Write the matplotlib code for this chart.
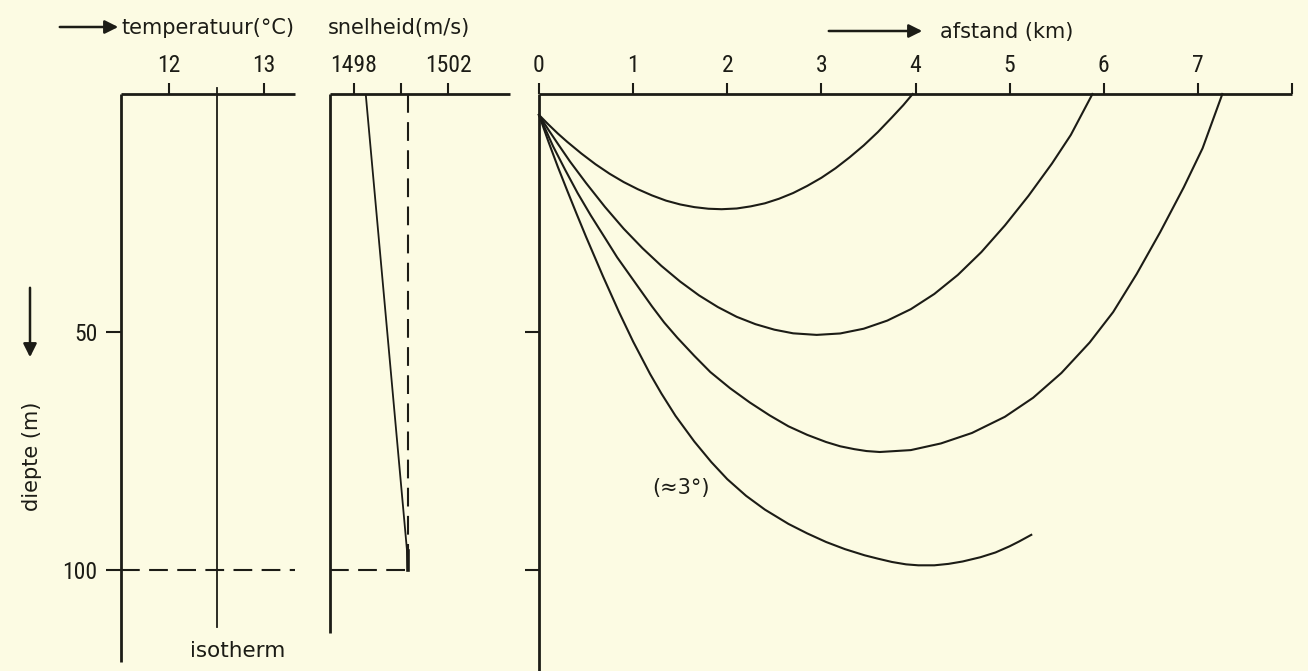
import matplotlib
matplotlib.use('Agg')
import matplotlib.pyplot as plt
from matplotlib import font_manager
from matplotlib.patches import FancyArrowPatch

W, H = 1308, 671
bg = '#fcfbe3'
ink = '#1c1c16'

# narrow face for the numbers, plain sans for the captions
names = {f.name for f in font_manager.fontManager.ttflist}
num_font = 'DejaVu Sans'
for cand in ['Liberation Sans Narrow', 'DejaVu Sans Condensed', 'Roboto Condensed']:
    if cand in names:
        num_font = cand
        break
cap_font = 'DejaVu Sans'
plt.rcParams['font.family'] = num_font
num_size = 17

# temperature profile: isotherm
temp_depth = [0, 112]
temp_val = [12.5, 12.5]
temp_ticks = [12, 13]

# sound speed profile (m/s) against depth (m)
speed_depth = [0, 95.5, 100]
speed_val = [1498.5, 1500.25, 1500.3]
speed_ticks = [1498, 1500, 1502]
speed_labels = ['1498', '', '1502']
ref_speed = 1500.3
layer_depth = 100
depth_ticks = [50, 100]

# ray paths: distance (km) vs depth (m)
ray1_km = [0.0, 0.05, 0.1, 0.2, 0.3, 0.45, 0.6, 0.75, 0.9, 1.05, 1.2, 1.35, 1.5, 1.65, 1.8,
           1.94, 2.1, 2.25, 2.4, 2.55, 2.7, 2.85, 3.0, 3.15, 3.3, 3.45, 3.6, 3.75, 3.87, 3.97]
ray1_m = [4.4, 5.4, 6.4, 8.3, 10.05, 12.5, 14.75, 16.75, 18.5, 20.0, 21.3, 22.4, 23.2, 23.76,
          24.1, 24.2, 24.05, 23.6, 22.96, 22.0, 20.8, 19.3, 17.6, 15.6, 13.3, 10.8, 8.0, 4.9,
          2.35, 0.0]

ray2_km = [0.0, 0.1, 0.2, 0.33, 0.5, 0.7, 0.9, 1.1, 1.3, 1.5, 1.7, 1.9, 2.1, 2.3, 2.5, 2.7,
           2.95, 3.2, 3.45, 3.7, 3.95, 4.2, 4.45, 4.7, 4.95, 5.2, 5.45, 5.65, 5.88]
ray2_m = [4.4, 7.5, 10.45, 14.2, 18.7, 23.7, 28.3, 32.4, 36.1, 39.4, 42.3, 44.75, 46.8, 48.35,
          49.5, 50.27, 50.6, 50.3, 49.3, 47.6, 45.2, 42.0, 38.0, 33.2, 27.6, 21.4, 14.6, 8.6,
          0.0]

ray3_km = [0.0, 0.15, 0.28, 0.41, 0.55, 0.7, 0.83, 0.97, 1.2, 1.33, 1.47, 1.65, 1.82, 2.03,
           2.24, 2.45, 2.65, 2.85, 3.05, 3.2, 3.35, 3.48, 3.62, 3.95, 4.27, 4.6, 4.95, 5.25,
           5.55, 5.85, 6.1, 6.35, 6.6, 6.85, 7.05, 7.26]
ray3_m = [4.4, 11.0, 16.0, 20.8, 25.5, 30.2, 34.3, 38.2, 44.6, 48.0, 51.2, 55.0, 58.4, 61.8,
          64.8, 67.5, 69.8, 71.6, 73.1, 74.0, 74.6, 75.0, 75.2, 74.8, 73.4, 71.2, 67.8, 63.8,
          58.6, 52.2, 45.8, 37.8, 29.0, 19.6, 11.4, 0.0]

ray4_km = [0.0, 0.1, 0.2, 0.3, 0.4, 0.5, 0.68, 0.85, 1.0, 1.18, 1.3, 1.45, 1.65, 1.83, 2.0,
           2.2, 2.4, 2.65, 2.85, 3.05, 3.25, 3.46, 3.6, 3.75, 3.9, 4.03, 4.2, 4.35, 4.5, 4.69,
           4.85, 5.0, 5.1, 5.23]
ray4_m = [4.4, 10.0, 15.3, 20.3, 25.2, 30.0, 38.3, 45.8, 52.0, 58.8, 62.9, 67.6, 73.0, 77.3,
          80.9, 84.4, 87.3, 90.3, 92.3, 94.1, 95.6, 96.9, 97.6, 98.3, 98.8, 99.0, 99.0, 98.7,
          98.2, 97.3, 96.3, 95.0, 94.0, 92.6]

dist_ticks = list(range(9))
dist_labels = [str(i) for i in range(8)] + ['']

fig = plt.figure(figsize=(W / 100, H / 100), dpi=100, facecolor=bg)


def panel(x0, x1, y0, y1):
    # axes box given in pixels from the top-left corner
    ax = fig.add_axes([x0 / W, 1 - y1 / H, (x1 - x0) / W, (y1 - y0) / H])
    ax.set_facecolor('none')
    for s in ['right', 'bottom']:
        ax.spines[s].set_visible(False)
    for s in ['top', 'left']:
        ax.spines[s].set_linewidth(2.0)
        ax.spines[s].set_color(ink)
        ax.spines[s].set_capstyle('butt')
    ax.xaxis.tick_top()
    ax.tick_params(axis='x', direction='out', length=8, width=1.5, pad=4,
                   labelsize=num_size, colors=ink)
    return ax


# temperature panel
ax_t = panel(121, 295, 94, 662)
ax_t.set_xlim(11.495, 13.326)
ax_t.set_ylim(119.3, 0)
ax_t.set_xticks(temp_ticks)
ax_t.set_yticks(depth_ticks)
ax_t.tick_params(axis='y', direction='out', length=11, width=1.5, pad=6,
                 labelsize=num_size, colors=ink)
ax_t.plot(temp_val, temp_depth, color=ink, lw=1.3)
ax_t.plot([12.5, 12.5], [-1.3, 0], color=ink, lw=1.3, clip_on=False)
ax_t.plot([11.495, 13.326], [layer_depth, layer_depth], color=ink, lw=1.5,
          dashes=(9, 4.5), clip_on=False)
ax_t.text(12.72, 117, 'isotherm', ha='center', va='center', fontsize=15.5, color=ink,
          family=cap_font, clip_on=False)

# sound speed panel
ax_s = panel(330, 510, 94, 633)
ax_s.set_xlim(1496.98, 1504.64)
ax_s.set_ylim(113.2, 0)
ax_s.set_xticks(speed_ticks)
ax_s.set_xticklabels(speed_labels)
ax_s.set_yticks([])
ax_s.plot(speed_val, speed_depth, color=ink, lw=1.3)
ax_s.plot([ref_speed, ref_speed], [0, layer_depth], color=ink, lw=1.5, dashes=(9, 4.5))
ax_s.plot([1496.98, ref_speed], [layer_depth, layer_depth], color=ink, lw=1.5,
          dashes=(9, 4.5))
ax_s.plot([ref_speed, ref_speed], [96, layer_depth], color=ink, lw=2.6)

# ray diagram
ax_r = panel(539, 1292, 94, 671)
ax_r.set_xlim(0, 8)
ax_r.set_ylim(121.2, 0)
ax_r.set_xticks(dist_ticks)
ax_r.set_xticklabels(dist_labels)
ax_r.set_yticks(depth_ticks)
ax_r.set_yticklabels([])
ax_r.tick_params(axis='y', direction='out', length=10, width=1.5, colors=ink)
for xs, ds in [(ray1_km, ray1_m), (ray2_km, ray2_m), (ray3_km, ray3_m), (ray4_km, ray4_m)]:
    ax_r.plot(xs, ds, color=ink, lw=1.5, solid_joinstyle='round', clip_on=False)
ax_r.text(1.51, 82.8, '(≈3°)', ha='center', va='center', fontsize=15, color=ink,
          family=cap_font)


def arrow(p0, p1):
    fig.add_artist(FancyArrowPatch((p0[0] / W, 1 - p0[1] / H), (p1[0] / W, 1 - p1[1] / H),
                                   transform=fig.transFigure, arrowstyle='-|>',
                                   mutation_scale=20, lw=1.8, color=ink))


arrow((57, 27), (121, 27))
arrow((826, 31), (925, 31))
arrow((30, 285), (30, 360))

cap = dict(va='center', fontsize=15, color=ink, family=cap_font)
fig.text(122 / W, 1 - 28 / H, 'temperatuur(°C)', ha='left', **cap)
fig.text(328 / W, 1 - 28 / H, 'snelheid(m/s)', ha='left', **cap)
fig.text(940 / W, 1 - 32 / H, 'afstand (km)', ha='left', **cap)
fig.text(32 / W, 1 - 456 / H, 'diepte (m)', ha='center', rotation=90, **cap)

fig.savefig('out.png', dpi=100, facecolor=bg)
